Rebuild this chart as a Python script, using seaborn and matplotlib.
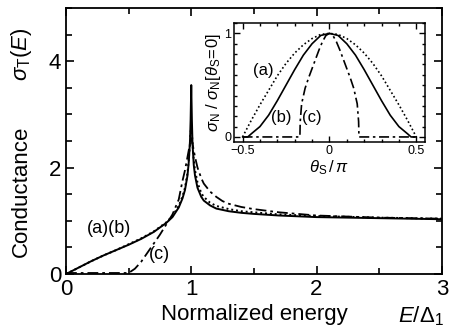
import matplotlib
matplotlib.use("Agg")
import matplotlib.pyplot as plt
import seaborn as sns
from matplotlib.ticker import MultipleLocator

# main panel: conductance vs normalized energy
E_ab = [0, 0.1, 0.2, 0.3, 0.4, 0.5, 0.6, 0.7, 0.8, 0.85, 0.9, 0.93, 0.95, 0.97, 0.98,
        0.99, 0.995, 1.0, 1.005, 1.01, 1.02, 1.03, 1.05, 1.08, 1.1, 1.15, 1.2, 1.3,
        1.4, 1.5, 1.7, 2.0, 2.5, 3.0]
sig_b = [0, 0.12, 0.24, 0.35, 0.45, 0.55, 0.66, 0.79, 0.96, 1.07, 1.25, 1.42, 1.58, 1.85, 2.1,
         2.5, 2.9, 3.55, 2.9, 2.45, 2.05, 1.85, 1.62, 1.45, 1.38, 1.29, 1.23, 1.18,
         1.15, 1.13, 1.10, 1.07, 1.05, 1.03]
sig_a = [0, 0.12, 0.24, 0.35, 0.45, 0.56, 0.67, 0.80, 0.97, 1.09, 1.28, 1.46, 1.62, 1.9, 2.15,
         2.45, 2.65, 2.8, 2.65, 2.45, 2.15, 1.95, 1.72, 1.52, 1.45, 1.34, 1.28, 1.22,
         1.18, 1.16, 1.12, 1.09, 1.06, 1.04]
E_c = [0, 0.5, 0.55, 0.6, 0.65, 0.7, 0.75, 0.8, 0.85, 0.9, 0.93, 0.95, 0.97, 0.99, 1.0,
       1.01, 1.03, 1.05, 1.08, 1.1, 1.15, 1.2, 1.25, 1.3, 1.4, 1.5, 1.7, 2.0, 2.5, 3.0]
sig_c = [0.02, 0.02, 0.1, 0.23, 0.4, 0.57, 0.74, 0.93, 1.12, 1.4, 1.75, 1.95, 2.2, 2.45, 2.55,
         2.45, 2.2, 2.0, 1.8, 1.7, 1.55, 1.45, 1.37, 1.32, 1.26, 1.22, 1.16, 1.10, 1.06, 1.04]

# inset: normalized conductance vs theta_S / pi
th_a = [-0.5, -0.45, -0.4, -0.35, -0.3, -0.25, -0.2, -0.15, -0.1, -0.05, 0,
        0.05, 0.1, 0.15, 0.2, 0.25, 0.3, 0.35, 0.4, 0.45, 0.5]
val_a = [0, 0.16, 0.31, 0.45, 0.59, 0.71, 0.81, 0.89, 0.95, 0.99, 1.0,
         0.99, 0.95, 0.89, 0.81, 0.71, 0.59, 0.45, 0.31, 0.16, 0]
th_b = [-0.5, -0.47, -0.45, -0.4, -0.35, -0.3, -0.25, -0.2, -0.15, -0.1, -0.05, 0,
        0.05, 0.1, 0.15, 0.2, 0.25, 0.3, 0.35, 0.4, 0.45, 0.47, 0.5]
val_b = [0, 0.0, 0.03, 0.10, 0.21, 0.35, 0.5, 0.65, 0.79, 0.9, 0.98, 1.0,
         0.98, 0.9, 0.79, 0.65, 0.5, 0.35, 0.21, 0.10, 0.03, 0.0, 0]
th_c = [-0.5, -0.17, -0.168, -0.16, -0.14, -0.12, -0.10, -0.08, -0.06, -0.04, -0.02, 0,
        0.02, 0.04, 0.06, 0.08, 0.10, 0.12, 0.14, 0.16, 0.168, 0.17, 0.5]
val_c = [0, 0, 0.15, 0.32, 0.47, 0.57, 0.66, 0.75, 0.84, 0.92, 0.98, 1.0,
         0.98, 0.92, 0.84, 0.75, 0.66, 0.57, 0.47, 0.32, 0.15, 0, 0]

sns.set_style("ticks")
plt.rcParams['font.family'] = ['Liberation Sans', 'DejaVu Sans']
plt.rcParams['mathtext.fontset'] = 'custom'
plt.rcParams['mathtext.rm'] = 'Liberation Sans'
plt.rcParams['mathtext.it'] = 'Liberation Sans:italic'
for k in ['text.color', 'axes.labelcolor', 'xtick.color', 'ytick.color', 'axes.edgecolor']:
    plt.rcParams[k] = 'black'

fig = plt.figure(figsize=(4.55, 3.29), dpi=100)
ax = fig.add_axes([0.145, 0.167, 0.826, 0.809])

dot = (0, (1, 1.5))
dashdot = (0, (6, 2.2, 1.5, 2.2))
sns.lineplot(x=E_ab, y=sig_a, ax=ax, color='black', lw=1.4, linestyle=dot,
             estimator=None, sort=False)
sns.lineplot(x=E_ab, y=sig_b, ax=ax, color='black', lw=1.4,
             estimator=None, sort=False)
sns.lineplot(x=E_c, y=sig_c, ax=ax, color='black', lw=1.3, linestyle=dashdot,
             estimator=None, sort=False)

ax.set_xlim(0, 3)
ax.set_ylim(0, 5)
ax.xaxis.set_major_locator(MultipleLocator(1))
ax.xaxis.set_minor_locator(MultipleLocator(0.5))
ax.yaxis.set_major_locator(MultipleLocator(2))
ax.yaxis.set_minor_locator(MultipleLocator(0.5))
ax.tick_params(which='both', direction='in', top=True, right=True, labelsize=16, width=1.2)
ax.tick_params(which='major', length=6)
ax.tick_params(which='minor', length=4)
for s in ax.spines.values():
    s.set_linewidth(1.3)
ax.set_xlabel('Normalized energy', fontsize=16, labelpad=3)
ax.set_ylabel('')
fig.text(0.048, 0.42, 'Conductance', rotation=90, fontsize=16, ha='center', va='center')
fig.text(0.048, 0.835, r'$\sigma_{\rm T}(E)$', rotation=90, fontsize=16, ha='center', va='center')
fig.text(0.925, 0.04, r'$E/\Delta_1$', fontsize=16, ha='center', va='center')

ax.text(0.34, 0.86, '(a)(b)', fontsize=13, ha='center', va='center')
ax.text(0.75, 0.36, '(c)', fontsize=13, ha='center', va='center')

# inset
ins = fig.add_axes([0.514, 0.568, 0.42, 0.362])
sns.lineplot(x=th_a, y=val_a, ax=ins, color='black', lw=1.2, linestyle=dot,
             estimator=None, sort=False)
sns.lineplot(x=th_b, y=val_b, ax=ins, color='black', lw=1.2,
             estimator=None, sort=False)
sns.lineplot(x=th_c, y=val_c, ax=ins, color='black', lw=1.2, linestyle=dashdot,
             estimator=None, sort=False)
ins.set_xlim(-0.55, 0.55)
ins.set_ylim(-0.05, 1.1)
ins.xaxis.set_minor_locator(MultipleLocator(0.1))
ins.yaxis.set_minor_locator(MultipleLocator(0.1))
ins.set_xticks([-0.5, 0, 0.5])
ins.set_xticklabels(['\u22120.5', '0', '0.5'])
ins.set_yticks([0, 1])
ins.set_yticklabels(['0', '1'])
ins.tick_params(which='both', direction='in', top=True, right=True, labelsize=9, width=1.0, pad=2)
ins.tick_params(which='major', length=4)
ins.tick_params(which='minor', length=2.5)
for s in ins.spines.values():
    s.set_linewidth(1.1)
ins.set_xlabel(r'$\theta_{\rm S}\,/\,\pi$', fontsize=12, labelpad=1)
ins.set_ylabel(r'$\sigma_{\rm N}\ /\ \sigma_{\rm N}[\theta_{\rm S}\!=\!0]$', fontsize=12, labelpad=1)
ins.text(-0.38, 0.64, '(a)', fontsize=12, ha='center', va='center')
ins.text(-0.28, 0.19, '(b)', fontsize=12, ha='center', va='center')
ins.text(-0.1, 0.19, '(c)', fontsize=12, ha='center', va='center')

fig.savefig('out.png', dpi=100)
